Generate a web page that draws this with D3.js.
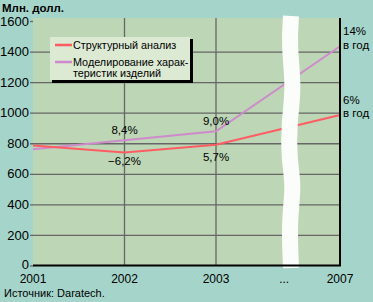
<!DOCTYPE html>
<html>
<head>
<meta charset="utf-8">
<script src="https://cdn.jsdelivr.net/npm/d3@7"></script>
<style>
  body { margin: 0; background: #a5d5ca; }
  text { font-family: "Liberation Sans", Arial, sans-serif; fill: #000; }
</style>
</head>
<body>
<script>
// данные
const years = [2001, 2002, 2003, 2007];
const structural = [785, 740, 790, 985];
const modeling = [760, 820, 878, 1435];
const yTicks = [0, 200, 400, 600, 800, 1000, 1200, 1400, 1600];
const xLabels = ["2001", "2002", "2003", "...", "2007"];
const xLabelPos = [2001, 2002, 2003, 2005.2, 2007];
const growthNotes = [
  { year: 2002, value: 820, text: "8,4%", dy: -6 },
  { year: 2002, value: 740, text: "\u22126,2%", dy: 13 },
  { year: 2003, value: 878, text: "9,0%", dy: -6 },
  { year: 2003, value: 790, text: "5,7%", dy: 16 }
];

const W = 373, H = 302;
const svg = d3.select("body").append("svg")
  .attr("width", W)
  .attr("height", H);

// шкалы (ось X с разрывом между 2003 и 2007)
const x = d3.scaleLinear().domain([2001, 2003, 2007]).range([33, 216, 340]);
const y = d3.scaleLinear().domain([0, 1600]).range([265.5, 21]);

// фон области графика
svg.append("rect")
  .attr("x", 33).attr("y", 18)
  .attr("width", 307).attr("height", 248)
  .attr("fill", "#bdd6b5");

// горизонтальная сетка + подписи
const yAxis = svg.append("g")
  .attr("transform", "translate(33,0)")
  .call(d3.axisLeft(y).tickValues(yTicks).tickSize(-307).tickSizeOuter(0).tickPadding(4).tickFormat(d3.format("d")));
yAxis.select(".domain").remove();
yAxis.selectAll("line")
  .attr("stroke", "#666")
  .attr("stroke-width", 1.3)
  .attr("x1", -3);
yAxis.selectAll(".tick").filter(d => d === 1600 || d === 0).select("line").attr("x2", 0);
yAxis.selectAll(".tick").filter(d => d === 0).select("text").attr("dy", "0.2em");
yAxis.selectAll("text")
  .attr("font-size", 13)
  .attr("font-family", null);

// вертикальная сетка
svg.selectAll(".vgrid")
  .data([2002, 2003])
  .join("line")
  .attr("x1", d => x(d)).attr("x2", d => x(d))
  .attr("y1", 18).attr("y2", 266)
  .attr("stroke", "#666")
  .attr("stroke-width", 1.3);

// линии
const line = d3.line()
  .x((d, i) => x(years[i]))
  .y(d => y(d));

svg.append("path")
  .datum(modeling)
  .attr("d", line)
  .attr("fill", "none")
  .attr("stroke", "#cf8acc")
  .attr("stroke-width", 2);

svg.append("path")
  .datum(structural)
  .attr("d", line)
  .attr("fill", "none")
  .attr("stroke", "#ff5c63")
  .attr("stroke-width", 2);

// разрыв оси
const wave = [[291, 16], [289, 45], [294, 88], [289, 122], [289, 160], [294, 186], [289, 220], [291, 268]];
svg.append("path")
  .attr("d", d3.line().curve(d3.curveBasis)(wave))
  .attr("fill", "none")
  .attr("stroke", "#fbfdfa")
  .attr("stroke-width", 16);

// оси: нижняя и правая
svg.append("line")
  .attr("x1", 33).attr("x2", 341)
  .attr("y1", 265.5).attr("y2", 265.5)
  .attr("stroke", "#000").attr("stroke-width", 2);
svg.append("line")
  .attr("x1", 340).attr("x2", 340)
  .attr("y1", 18).attr("y2", 266)
  .attr("stroke", "#000").attr("stroke-width", 2);

// подписи по X
svg.selectAll(".xlab")
  .data(xLabels)
  .join("text")
  .attr("x", (d, i) => x(xLabelPos[i]))
  .attr("y", 283)
  .attr("text-anchor", "middle")
  .attr("font-size", 12)
  .text(d => d);

// проценты роста
svg.selectAll(".note")
  .data(growthNotes)
  .join("text")
  .attr("x", d => x(d.year))
  .attr("y", d => y(d.value) + d.dy)
  .attr("text-anchor", "middle")
  .attr("font-size", 11.5)
  .text(d => d.text);

// подписи справа
const rightNotes = [
  { value: modeling[3], lines: ["14%", "в год"] },
  { value: structural[3], lines: ["6%", "в год"] }
];
rightNotes.forEach(n => {
  n.lines.forEach((t, i) => {
    svg.append("text")
      .attr("x", 343)
      .attr("y", y(n.value) - 11 + i * 13.5)
      .attr("font-size", 11.5)
      .text(t);
  });
});

// заголовок и источник
svg.append("text")
  .attr("x", 2).attr("y", 12)
  .attr("font-size", 11.5)
  .attr("font-weight", "bold")
  .text("Млн. долл.");
svg.append("text")
  .attr("x", 4).attr("y", 297)
  .attr("font-size", 11)
  .text("Источник: Daratech.");

// легенда
const lg = svg.append("g").attr("transform", "translate(50,37)");
lg.append("rect")
  .attr("x", 2).attr("y", 2).attr("width", 141).attr("height", 44)
  .attr("fill", "#000");
lg.append("rect")
  .attr("x", 0).attr("y", 0).attr("width", 140).attr("height", 43)
  .attr("fill", "#dce9d3");
const legendItems = [
  { color: "#ff5c63", lines: ["Структурный анализ"], y: 8 },
  { color: "#cf8acc", lines: ["Моделирование харак-", "теристик изделий"], y: 25 }
];
legendItems.forEach(it => {
  lg.append("line")
    .attr("x1", 5).attr("x2", 22)
    .attr("y1", it.y).attr("y2", it.y)
    .attr("stroke", it.color).attr("stroke-width", 2.5);
  it.lines.forEach((t, i) => {
    lg.append("text")
      .attr("x", 23)
      .attr("y", it.y + 4 + i * 11)
      .attr("font-size", 10.8)
      .text(t);
  });
});
</script>
</body>
</html>
